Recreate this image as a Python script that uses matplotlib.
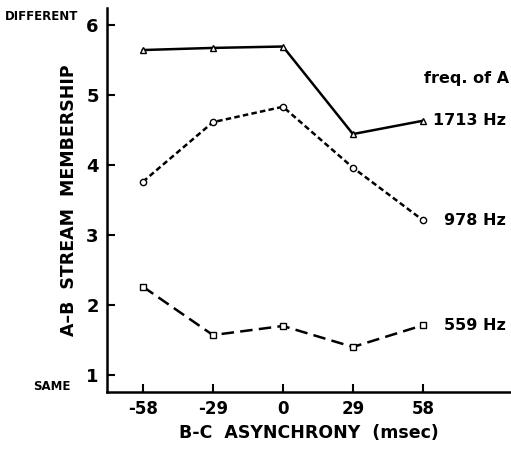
import matplotlib
matplotlib.use('Agg')
import matplotlib.pyplot as plt

# B-C asynchrony (msec)
asynchrony = [-58, -29, 0, 29, 58]
# mean A-B stream membership rating for each frequency of A
hz1713 = [5.64, 5.67, 5.69, 4.44, 4.63]
hz978 = [3.76, 4.61, 4.83, 3.96, 3.21]
hz559 = [2.26, 1.57, 1.70, 1.40, 1.71]
series_labels = ['1713 Hz', '978 Hz', '559 Hz']
yticks = [1, 2, 3, 4, 5, 6]

plt.rcParams['font.family'] = 'DejaVu Sans'
plt.rcParams['font.weight'] = 'bold'
plt.rcParams['axes.unicode_minus'] = False

fig = plt.figure(figsize=(5.11, 4.51), dpi=100)
ax = fig.add_axes([107/511, 59/451, 404/511, 384/451])

mk = dict(markersize=4.5, markerfacecolor='white', markeredgecolor='black',
          markeredgewidth=1.0, color='black', linewidth=1.8)
ax.plot(asynchrony, hz1713, marker='^', linestyle='-', **mk)
ax.plot(asynchrony, hz978, marker='o', linestyle=(0, (2.2, 1.3)), **mk)
ax.plot(asynchrony, hz559, marker='s', linestyle=(0, (5, 2.5)), **mk)

ax.set_xlim(-72.9, 94.5)
ax.set_ylim(0.757, 6.24)
ax.set_xticks(asynchrony)
ax.set_yticks(yticks)
ax.tick_params(direction='in', length=6, width=1.5, labelsize=12, pad=6)
ax.tick_params(axis='y', labelsize=13)
for lab in ax.get_xticklabels() + ax.get_yticklabels():
    lab.set_fontweight('bold')
for side in ['top', 'right']:
    ax.spines[side].set_visible(False)
for side in ['left', 'bottom']:
    ax.spines[side].set_linewidth(1.8)

ax.set_xlabel('B-C  ASYNCHRONY  (msec)', fontsize=12.5, fontweight='bold', labelpad=4)
ax.set_ylabel('A\u2013B  STREAM  MEMBERSHIP', fontsize=12.5, fontweight='bold', labelpad=6)

# series labels at the right end of each line
for y, name in zip([hz1713[-1], hz978[-1], hz559[-1]], series_labels):
    ax.annotate(name, (asynchrony[-1], y), xytext=(83, 0), textcoords='offset pixels',
                ha='right', va='center', fontsize=11.5, fontweight='bold')
ax.annotate('freq. of A', (asynchrony[-1], 5.24), xytext=(86, 0), textcoords='offset pixels',
            ha='right', va='center', fontsize=11.5, fontweight='bold')

fig.text(5/511, 1 - 16/451, 'DIFFERENT', fontsize=8.5, fontweight='bold', va='center', ha='left')
fig.text(33/511, 1 - 387/451, 'SAME', fontsize=8.5, fontweight='bold', va='center', ha='left')

fig.savefig('out.png', dpi=100)
